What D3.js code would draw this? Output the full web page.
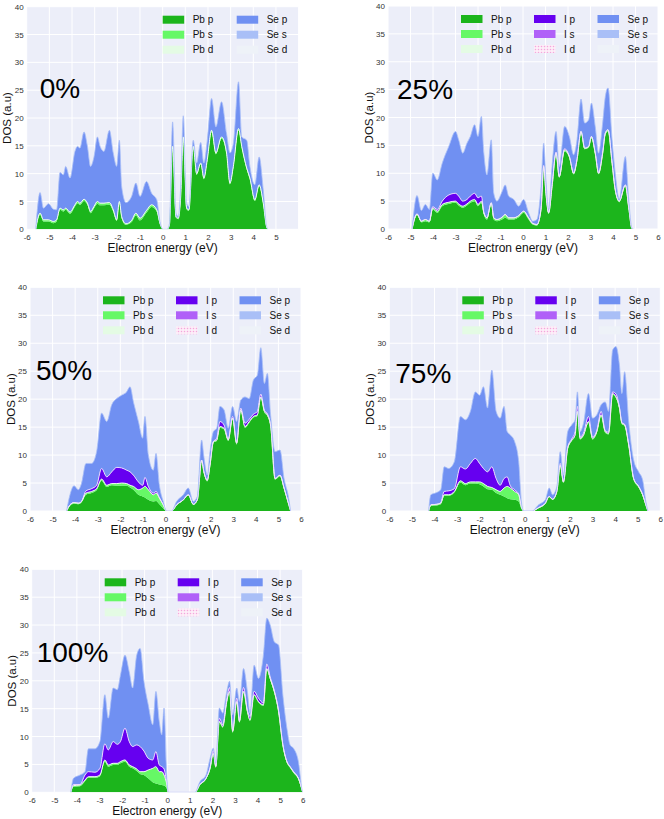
<!DOCTYPE html>
<html><head><meta charset="utf-8">
<script src="https://cdn.jsdelivr.net/npm/d3@7"></script>
<style>body{margin:0;background:#fff;} svg{display:block;font-family:"Liberation Sans",Arial,sans-serif;}</style>
</head><body><svg id="c" width="664" height="819"></svg>
<script>
// ---------- DATA ----------
const yTicks = [0,5,10,15,20,25,30,35,40];
const xTicksA = [-6,-5,-4,-3,-2,-1,0,1,2,3,4,5];
const xTicksB = [-6,-5,-4,-3,-2,-1,0,1,2,3,4,5,6];
const panelLabels = ["0%","25%","50%","75%","100%"];
const legendPb = ["Pb p","Pb s","Pb d"];
const legendI = ["I p","I s","I d"];
const legendSe = ["Se p","Se s","Se d"];

// 0%
const e0 = [-5.6,-5.41,-5.26,-5.04,-4.82,-4.68,-4.53,-4.38,-4.28,-4.09,
-3.87,-3.76,-3.65,-3.47,-3.32,-3.18,-3.03,-2.88,-2.76,-2.59,
-2.35,-2.18,-2.03,-1.91,-1.81,-1.62,-1.37,-1.18,-1.0,-0.71,
-0.49,-0.26,-0.12,0.03,0.2,0.3,0.44,0.59,0.69,0.8,
0.91,1.06,1.16,1.35,1.5,1.68,1.82,1.97,2.16,2.35,
2.6,2.82,2.97,3.12,3.35,3.49,3.71,3.85,4.07,4.26,
4.44,4.59,4.66];
const pbp0 = [0,2.6,1.4,1.4,1.1,1.4,3.5,3.2,3.5,2.8,
4.1,4.7,4.4,5.1,4.4,2.9,3.8,4.6,4.3,4.3,
4.4,3.2,1.5,4.7,2.0,0.8,1.3,2.5,1.6,3.0,
4.0,3.2,0.9,0,0,0.7,14.6,2.1,1.8,5.8,
16.3,3.6,3.3,14.6,9.8,11.7,9.0,12.3,17.5,13.5,
16.3,13.5,8.1,11.1,17.8,14.7,10.8,9.0,5.1,7.8,
4.5,0.3,0];
const pbs0 = [0,.3,.3,.3,.3,.3,.3,.3,.3,.3,
.3,.3,.3,.3,.3,.3,.3,.4,.4,.4,
.4,.3,.2,.3,.3,.2,.3,.4,.4,.4,
.4,.3,.2,0,0,.1,.3,.2,.2,.2,
.3,.2,.2,.3,.2,.2,.2,.2,.3,.2,
.3,.2,.2,.2,.3,.2,.2,.2,.2,.2,
.2,.1,0];
const sep0 = [0,3.7,2.1,2.9,2.2,1.8,6.4,6.3,7.5,6.1,
9.6,9.9,9.9,12.1,10.2,8.1,8.9,11.6,10.2,9.3,
13.0,10.2,9.6,11.0,5.4,3.8,4.3,5.4,3.9,5.2,
2.1,1.8,0.3,0,0,0.2,4.4,0.6,0.3,2.0,
3.8,0.9,0.6,1.1,1.9,3.7,2.7,3.5,5.7,4.7,
6.3,3.5,5.4,4.1,8.4,1.7,5.0,2.1,2.7,5.0,
2.4,0.1,0];

// 25%
const e25 = [-4.93,-4.71,-4.52,-4.34,-4.16,-4.01,-3.81,-3.59,-3.3,-3.0,
-2.86,-2.68,-2.49,-2.34,-2.15,-2.0,-1.85,-1.74,-1.6,-1.41,
-1.3,-1.16,-0.93,-0.79,-0.64,-0.41,-0.19,0.03,0.25,0.43,
0.62,0.8,0.92,1.02,1.14,1.29,1.47,1.61,1.85,2.06,
2.25,2.4,2.58,2.74,2.92,3.04,3.21,3.36,3.54,3.66,
3.78,3.96,4.1,4.28,4.55,4.7,4.84,4.91];
const pbp25 = [0,2.4,1.2,1.4,1.2,3.5,2.9,4.1,4.5,4.7,
4.2,3.8,4.2,4.7,5.0,4.1,4.7,2.6,1.7,4.4,
1.7,1.4,1.7,2.0,1.7,1.7,2.1,2.9,1.7,0.8,
0.6,3.3,11.0,6.2,2.7,7.4,13.3,9.2,13.9,12.8,
9.8,12.2,17.2,14.3,14.6,16.3,13.4,9.8,13.4,16.9,
17.5,11.6,6.8,4.8,7.7,3.6,0.1,0];
const pbs25 = [0,.3,.2,.3,.2,.3,.3,.3,.3,.3,
.3,.3,.3,.3,.3,.3,.3,.3,.3,.3,
.3,.3,.4,.6,.3,.3,.3,.3,.3,.2,
.2,.2,.2,.2,.2,.2,.3,.2,.3,.2,
.2,.2,.3,.2,.2,.3,.2,.2,.2,.3,
.3,.2,.2,.2,.2,.2,0,0];
const ip25 = [0,0,0,0,0,.2,.3,.6,1.3,1.4,
1.4,.9,.8,.9,1.1,1.2,.9,.1,0,0,
0,0,0,0,0,0,0,0,0,0,
0,0,.2,0,0,0,.2,0,.2,0,
0,0,0,0,0,0,0,0,0,0,
0,0,0,0,0,0,0,0];
const sep25 = [0,3.3,1.9,2.7,2.1,6.0,5.3,6.8,8.7,11.1,
10.1,8.6,10.1,10.7,12.3,11.0,14.3,10.6,7.7,11.3,
4.4,3.3,4.6,5.3,3.9,3.3,1.7,2.1,0.9,0.4,
0.9,4.1,4.0,2.4,0.6,3.6,3.7,1.8,4.0,3.6,
3.3,3.6,5.8,4.5,4.8,6.0,4.8,3.6,5.4,6.6,
7.5,4.2,3.0,0.3,5.1,1.5,0.1,0];

// 50%
const e50 = [-4.38,-4.23,-4.05,-3.86,-3.72,-3.52,-3.27,-3.05,-2.83,-2.6,
-2.38,-2.16,-1.94,-1.72,-1.57,-1.42,-1.2,-1.01,-0.91,-0.76,
-0.54,-0.42,-0.27,-0.1,0.05,0.27,0.49,0.79,1.01,1.23,
1.41,1.6,1.7,1.85,1.97,2.12,2.27,2.41,2.59,2.78,
2.97,3.15,3.33,3.52,3.71,3.89,4.07,4.22,4.38,4.51,
4.66,4.85,5.07,5.25,5.44,5.54];
const pbp50 = [0,.9,1.3,1.2,1.5,2.9,3.2,3.7,5.4,4.3,
4.6,4.5,4.5,4.5,4.2,3.8,2.9,2.6,2.4,2.0,
1.7,1.8,1.2,.5,0,0,1.0,1.9,2.8,1.1,
1.9,8.9,6.8,5.3,8.0,12.2,12.5,14.9,14.6,12.5,
16.4,11.9,17.9,14.9,15.8,16.7,17.0,20.2,17.6,17.0,
14.9,5.6,6.2,3.9,1.3,0];
const pbs50 = [0,.2,.2,.2,.2,.3,.3,.3,.3,.3,
.3,.4,.5,.4,.4,.6,.9,1.5,2.0,1.8,
1.2,1.4,1.1,.6,0,0,.1,.1,.1,.1,
.1,.2,.2,.2,.2,.2,.2,.2,.2,.2,
.2,.2,.2,.2,.2,.2,.2,.2,.2,.2,
.2,.2,.2,.2,.1,0];
const ip50 = [0,0,0,0,0,.4,.5,.6,1.9,1.5,
2.1,2.9,2.7,2.4,2.4,2.0,1.4,.5,1.6,.6,
.3,.3,.1,0,0,0,0,0,0,0,
0,0,0,0,0,0,.3,.9,.6,.1,
.3,.1,.3,.6,.4,.4,.6,.5,.2,.2,
.1,0,0,0,0,0];
const sep50 = [0,1.8,3.0,2.4,3.2,4.9,4.5,6.0,9.9,9.9,
12.0,12.3,13.0,14.0,15.2,13.1,10.8,8.4,10.9,5.6,
4.1,6.8,2.2,.6,0,0,.6,.9,1.2,.5,
.6,3.6,2.7,.9,2.4,1.8,1.8,2.7,2.7,2.0,
1.8,3.8,1.4,4.7,3.7,6.1,6.5,8.3,4.8,7.2,
1.7,4.8,4.5,1.7,1.2,0];

// 75%
const e75 = [-4.26,-4.16,-3.9,-3.72,-3.57,-3.37,-3.12,-2.85,-2.63,-2.41,
-2.19,-2.0,-1.83,-1.65,-1.46,-1.27,-1.09,-0.92,-0.78,-0.64,
-0.45,-0.27,-0.15,-0.05,0.32,0.61,0.91,1.08,1.23,1.42,
1.57,1.71,1.9,2.08,2.23,2.33,2.45,2.6,2.82,3.0,
3.19,3.38,3.56,3.71,3.89,4.04,4.19,4.3,4.42,4.6,
4.82,5.04,5.22,5.36,5.45];
const pbp75 = [0,.9,1.0,1.2,2.7,2.7,3.3,5.1,4.6,4.9,
4.9,4.8,4.4,3.9,3.8,3.2,2.9,2.6,2.3,2.1,
2.0,1.7,.4,0,0,.5,1.3,2.5,2.0,3.4,
8.0,5.0,11.0,12.5,13.4,17.6,12.8,13.4,15.8,12.8,
14.0,17.0,14.0,13.7,20.8,20.2,18.2,15.5,15.2,11.6,
5.6,4.2,2.7,1.0,0];
const pbs75 = [0,.2,.2,.2,.2,.2,.2,.3,.3,.3,
.3,.4,.5,.5,.4,.6,.6,1.5,2.1,2.0,
1.5,1.2,.4,0,0,.1,.1,.1,.1,.1,
.2,.2,.2,.2,.2,.2,.2,.2,.2,.2,
.2,.2,.2,.2,.2,.2,.2,.2,.2,.2,
.2,.2,.2,.1,0];
const ip75 = [0,0,0,.1,.6,.7,.5,2.5,2.6,3.3,
4.2,3.3,2.7,2.6,3.7,2.0,1.1,1.7,1.7,.4,
.3,.1,0,0,0,0,0,0,0,0,
.3,0,.2,.2,.6,.9,.2,.3,.9,.2,
.2,.6,.2,.2,.3,.5,.2,.1,.1,.1,
0,0,0,0,0];
const sep75 = [0,1.8,2.1,2.3,4.4,4.0,4.8,9.0,8.8,9.3,
11.9,12.2,14.6,11.4,17.3,12.0,12.0,12.9,8.1,9.1,
8.6,5.8,.9,0,0,.5,.6,1.5,.8,.9,
2.1,1.2,2.8,2.5,2.1,2.6,1.0,1.8,4.1,3.4,
2.8,1.2,5.1,3.7,7.5,8.5,7.5,5.2,9.4,4.1,
3.3,2.6,2.6,.6,0];

// 100%
const e100 = [-4.27,-4.15,-3.86,-3.64,-3.49,-3.2,-2.98,-2.76,-2.61,-2.39,
-2.21,-2.07,-1.87,-1.68,-1.53,-1.35,-1.2,-1.03,-0.84,-0.64,
-0.5,-0.35,-0.24,-0.14,-0.02,0.05,1.23,1.45,1.72,1.9,
2.04,2.15,2.31,2.46,2.64,2.76,2.9,3.08,3.2,3.38,
3.55,3.67,3.85,4.04,4.26,4.41,4.56,4.74,4.93,5.12,
5.3,5.44,5.59,5.81,5.96,6.0];
const pbp100 = [0,1.0,1.1,2.0,2.6,2.6,2.9,5.5,4.6,4.9,
4.9,5.2,5.5,4.6,4.3,3.8,3.3,3.1,2.5,1.8,
1.6,1.4,1.3,1.2,.7,0,0,1.3,2.4,4.1,
6.8,4.4,12.5,11.6,16.1,17.9,10.7,16.1,12.5,17.9,
14.3,12.8,17.3,16.1,15.5,22.0,20.2,17.9,14.3,8.3,
5.3,4.4,3.5,2.3,.5,0];
const pbs100 = [0,.2,.2,.2,.2,.2,.2,.3,.3,.3,
.3,.3,.3,.3,.3,.4,.4,.6,1.5,2.5,
3.0,2.3,2.4,1.9,.8,0,0,.1,.1,.2,
.2,.2,.2,.2,.2,.2,.2,.2,.2,.2,
.2,.2,.2,.2,.2,.2,.2,.2,.2,.2,
.2,.2,.2,.2,.1,0];
const ip100 = [0,.2,.1,.9,.9,.8,1.2,2.9,2.7,3.9,
3.4,3.6,5.7,4.2,3.6,4.3,4.5,3.7,2.1,1.5,
2.7,1.2,.9,1.1,.2,0,0,0,0,.2,
.5,.1,.6,.3,.4,.7,.2,.6,.2,.7,
.2,.6,.6,.6,.3,.8,.3,.2,.2,.1,
0,0,0,0,0,0];
const sep100 = [0,1.1,1.7,.6,4.1,4.2,4.8,8.8,5.7,9.6,
9.8,11.9,13.1,12.5,10.5,16.1,17.6,12.5,9.6,6.3,
10.8,7.8,5.7,10.9,1.4,0,0,.5,.6,1.6,
.4,.5,1.8,2.1,1.4,1.1,2.8,1.8,3.4,3.4,
3.4,.6,4.7,3.5,8.6,8.2,9.3,8.7,11.7,8.9,
6.0,3.9,4.2,3.0,.1,0];

// ---------- STYLE / LAYOUT ----------
const colors = {pbp:"#1cb51c", pbs:"#66f866", ip:"#6600f0", sep:"#7090f2"};
const legendColors = {
  "Pb p":"#1cb51c","Pb s":"#66f866","Pb d":"#e4fbe4",
  "I p":"#6600f0","I s":"#b060f8","I d":"url(#idots)",
  "Se p":"#7090f2","Se s":"#a9bff7","Se d":"#eef2f8"
};
const layout = [
  {left:26.7, right:298.6, top:6.7, bottom:229.3, lx:13, ly:91},
  {left:388, right:658, top:6, bottom:229, lx:9, ly:93},
  {left:30, right:301, top:287.3, bottom:511, lx:6, ly:93},
  {left:389.3, right:660.3, top:287.3, bottom:511, lx:6, ly:96},
  {left:31.7, right:302.7, top:569.3, bottom:792.3, lx:5, ly:93}
];
const panels = [
  {e:e0, pbp:pbp0, pbs:pbs0, ip:null, sep:sep0, xt:xTicksA},
  {e:e25, pbp:pbp25, pbs:pbs25, ip:ip25, sep:sep25, xt:xTicksB},
  {e:e50, pbp:pbp50, pbs:pbs50, ip:ip50, sep:sep50, xt:xTicksB},
  {e:e75, pbp:pbp75, pbs:pbs75, ip:ip75, sep:sep75, xt:xTicksB},
  {e:e100, pbp:pbp100, pbs:pbs100, ip:ip100, sep:sep100, xt:xTicksB}
];

const svg = d3.select("#c");
const defs = svg.append("defs");
const pat = defs.append("pattern").attr("id","idots").attr("width",3).attr("height",3).attr("patternUnits","userSpaceOnUse");
pat.append("rect").attr("width",3).attr("height",3).attr("fill","#fdeef8");
pat.append("circle").attr("cx",1.5).attr("cy",1.5).attr("r",0.75).attr("fill","#f5a6dc");

panels.forEach((p,i)=>{
  const L = layout[i];
  const x = d3.scaleLinear().domain([-6,6]).range([L.left,L.right]);
  const y = d3.scaleLinear().domain([0,40]).range([L.bottom,L.top]);
  const g = svg.append("g");
  g.append("rect").attr("x",L.left).attr("y",L.top).attr("width",L.right-L.left).attr("height",L.bottom-L.top).attr("fill","#eceef9");
  g.selectAll(".vg").data(xTicksB).enter().append("line")
    .attr("x1",d=>x(d)).attr("x2",d=>x(d)).attr("y1",L.top).attr("y2",L.bottom)
    .attr("stroke","#ffffff").attr("stroke-width",1);
  g.selectAll(".hg").data(yTicks).enter().append("line")
    .attr("x1",L.left).attr("x2",L.right).attr("y1",d=>y(d)).attr("y2",d=>y(d))
    .attr("stroke","#ffffff").attr("stroke-width",1);

  defs.append("clipPath").attr("id","clip"+i).append("rect")
    .attr("x",L.left).attr("y",L.top).attr("width",L.right-L.left).attr("height",L.bottom-L.top);
  const dg = g.append("g").attr("clip-path",`url(#clip${i})`);

  const keys = p.ip ? ["pbp","pbs","ip","sep"] : ["pbp","pbs","sep"];
  const rows = p.e.map((e,j)=>{
    const r = {e:e, pbp:p.pbp[j], pbs:p.pbs[j], sep:p.sep[j]};
    if (p.ip) r.ip = p.ip[j];
    return r;
  });
  const stack = d3.stack().keys(keys)(rows);
  const area = d3.area().x(d=>x(d.data.e)).y0(d=>y(d[0])).y1(d=>y(d[1])).curve(d3.curveMonotoneX);
  const line = d3.line().x(d=>x(d.data.e)).y(d=>y(d[1])).curve(d3.curveMonotoneX);
  stack.forEach(s=>{
    dg.append("path").attr("d",area(s)).attr("fill",colors[s.key]);
  });
  stack.forEach(s=>{
    if (s.key==="pbs") dg.append("path").attr("d",line(s)).attr("fill","none").attr("stroke","#f0fff0").attr("stroke-width",1);
    if (s.key==="ip") dg.append("path").attr("d",line(s)).attr("fill","none").attr("stroke","#f3dcff").attr("stroke-width",0.9);
    if (s.key==="sep") dg.append("path").attr("d",line(s)).attr("fill","none").attr("stroke","#a9bff7").attr("stroke-width",0.8);
  });

  // axes
  const xa = g.append("g").attr("transform",`translate(0,${L.bottom})`)
    .call(d3.axisBottom(x).tickValues(p.xt).tickSize(0).tickPadding(5).tickFormat(d=>String(d)));
  const ya = g.append("g").attr("transform",`translate(${L.left},0)`)
    .call(d3.axisLeft(y).tickValues(yTicks).tickSize(0).tickPadding(3).tickFormat(d=>String(d)));
  [xa,ya].forEach(a=>{
    a.select(".domain").remove();
    a.selectAll("text").attr("font-size",8).attr("fill","#333").attr("font-family","'Liberation Sans',Arial,sans-serif");
  });

  g.append("text").attr("x",(L.left+L.right)/2).attr("y",L.bottom+22.5)
    .attr("text-anchor","middle").attr("font-size",12).attr("fill","#111").text("Electron energy (eV)");
  g.append("text").attr("transform",`translate(${L.left-15.5},${(L.top+L.bottom)/2}) rotate(-90)`)
    .attr("text-anchor","middle").attr("font-size",11.5).attr("fill","#111").text("DOS (a.u)");

  // legend
  const cols = p.ip ? [[legendPb,73],[legendI,146],[legendSe,209.5]] : [[legendPb,136],[legendSe,210]];
  cols.forEach(([names,off])=>{
    names.forEach((n,k)=>{
      const cy = L.top + 13 + k*15;
      g.append("rect").attr("x",L.left+off).attr("y",cy-4).attr("width",21.5).attr("height",8)
        .attr("fill",legendColors[n]);
      g.append("text").attr("x",L.left+off+30).attr("y",cy+3.6).attr("font-size",10).attr("fill","#111").text(n);
    });
  });

  g.append("text").attr("x",L.left+L.lx).attr("y",L.top+L.ly).attr("font-size",28).attr("fill","#000").text(panelLabels[i]);
});
</script>
</body></html>
